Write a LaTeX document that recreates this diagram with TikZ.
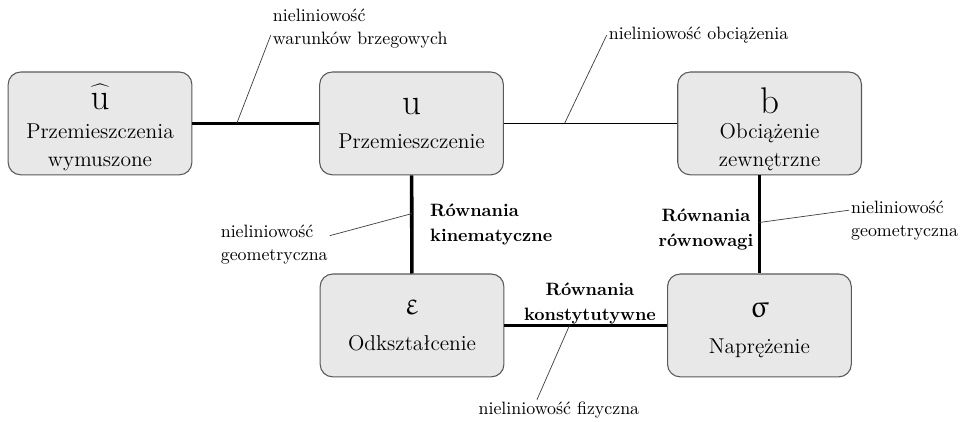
\documentclass[tikz,border=0pt]{standalone}
\usepackage[Euler]{upgreek}

\begin{document}
\begin{tikzpicture}[
        box/.style={draw=black!65, fill=black!9, rounded corners=7pt, line width=0.6pt,
            minimum width=3.61cm, minimum height=2.02cm, inner ysep=1pt, align=center, font=\large},
        link/.style={line width=2pt},
        thinlink/.style={line width=0.6pt},
        pinline/.style={line width=0.4pt, black!75},
        note/.style={align=left, inner sep=1pt},
        eqlabel/.style={font=\bfseries, align=center, inner sep=1pt}
    ]
    \useasboundingbox (0, 0) rectangle (18.9, 8.29);

    % Boxes
    \node[box] (uhat) at (1.965, 5.865) {{\huge\rule{0pt}{19pt}$\widehat{\mathrm{u}\rule{0pt}{11pt}}$}\\[2pt] Przemieszczenia\\[2pt] wymuszone};
    \node[box] (u) at (8.085, 5.865) {{\huge $\mathrm{u}$}\\[5pt] Przemieszczenie};
    \node[box] (b) at (15.12, 5.865) {{\huge\rule{0pt}{21pt}$\mathrm{b}$}\\[0pt] Obciążenie\\[2pt] zewnętrzne};
    \node[box] (eps) at (8.095, 1.896) {{\LARGE $\upvarepsilon$}\\[6pt] Odkształcenie};
    \node[box] (sig) at (14.92, 1.896) {{\LARGE\rule{0pt}{14pt}$\upsigma$}\\[6pt] Naprężenie};

    % Connections
    \draw[link] (uhat) -- (u) coordinate[pos=0.35] (pwar);
    \draw[thinlink] (u) -- (b) coordinate[pos=0.35] (pobc);
    \draw[link] (u) -- (eps) coordinate[pos=0.39] (pgeoL);
    \draw[link] (sig |- b.south) -- (sig) coordinate[pos=0.48] (pgeoR);
    \draw[link] (eps) -- (sig) coordinate[pos=0.40] (pfiz);

    % Equations
    \node[eqlabel, anchor=west, align=left] (kin) at (8.41, 3.88) {Równania\\[2pt] kinematyczne};
    \node[eqlabel] (rown) at (13.87, 3.79) {Równania\\[2pt] równowagi};
    \node[eqlabel] (konst) at (11.59, 2.33) {Równania\\[2pt] konstytutywne};

    % Nonlinearities
    \node[note, anchor=west] (warunki) at (5.32, 7.73) {nieliniowość\\[1pt] warunków brzegowych};
    \node[note, anchor=west] (obc) at (11.92, 7.60) {nieliniowość obciążenia};
    \node[note, anchor=west] (geoR) at (16.68, 3.96) {nieliniowość\\[1pt] geometryczna};
    \node[note, anchor=east] (geoL) at (6.48, 3.49) {nieliniowość\\[1pt] geometryczna};
    \node[note] (fiz) at (10.98, 0.236) {nieliniowość fizyczna};

    \draw[pinline] (pwar) -- ([yshift=-0.13cm]warunki.west);
    \draw[pinline] (pobc) -- (obc.west);
    \draw[pinline] (pgeoR) -- ([yshift=0.2cm]geoR.west);
    \draw[pinline] (pgeoL) -- ([yshift=0.17cm]geoL.east);
    \draw[pinline] (pfiz) -- ([xshift=-0.43cm]fiz.north);
\end{tikzpicture}
\end{document}
